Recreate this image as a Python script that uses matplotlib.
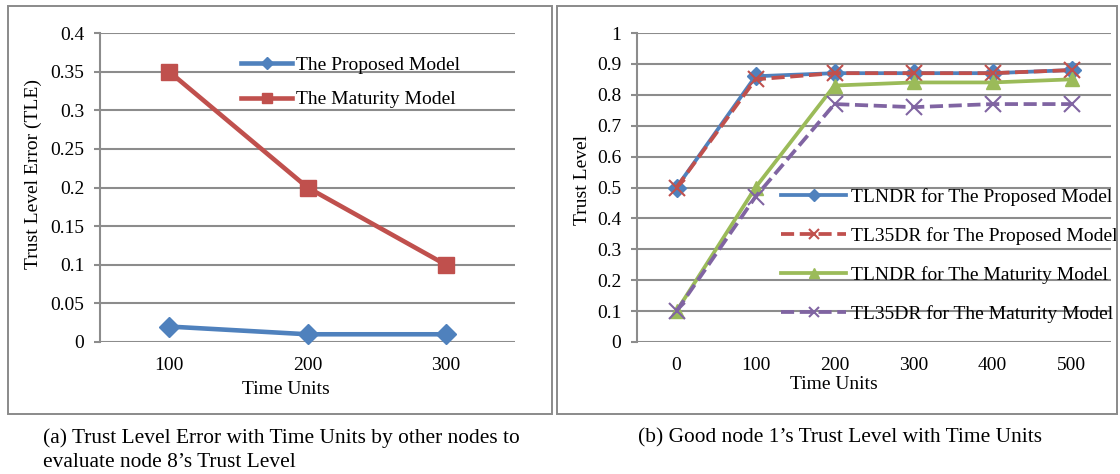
import matplotlib.pyplot as plt
from matplotlib.patches import Rectangle

plt.rcParams['font.family'] = ['Liberation Serif', 'DejaVu Serif']

# data for panel (a)
time_a = ['100', '200', '300']
tle_proposed = [0.02, 0.01, 0.01]
tle_maturity = [0.35, 0.20, 0.10]

# data for panel (b)
time_b = ['0', '100', '200', '300', '400', '500']
tlndr_proposed = [0.50, 0.86, 0.87, 0.87, 0.87, 0.88]
tl35dr_proposed = [0.50, 0.85, 0.87, 0.87, 0.87, 0.88]
tlndr_maturity = [0.10, 0.50, 0.83, 0.84, 0.84, 0.85]
tl35dr_maturity = [0.10, 0.47, 0.77, 0.76, 0.77, 0.77]

BLUE = '#4F81BD'
RED = '#C0504D'
GREEN = '#9BBB59'
PURPLE = '#8064A2'
GRID = '#8c8c8c'
FS = 14

W, H = 1120, 474
fig = plt.figure(figsize=(W / 100, H / 100), dpi=100)


def px_axes(x0, y0, x1, y1):
    """Axes from pixel box (top-left origin)."""
    return fig.add_axes([x0 / W, 1 - y1 / H, (x1 - x0) / W, (y1 - y0) / H])


def frame(x0, y0, x1, y1):
    fig.patches.append(Rectangle((x0 / W, 1 - y1 / H), (x1 - x0) / W, (y1 - y0) / H,
                                 transform=fig.transFigure, fill=False,
                                 edgecolor='#8a8a8a', linewidth=1.4))


def style_axes(ax, n, yticks):
    ax.set_xlim(-0.5, n - 0.5)
    ax.set_ylim(yticks[0], yticks[-1])
    ax.set_yticks(yticks)
    ax.yaxis.grid(True, color=GRID, linewidth=1.5)
    ax.set_axisbelow(True)
    for s in ['top', 'right', 'bottom']:
        ax.spines[s].set_visible(False)
    ax.spines['left'].set_color(GRID)
    ax.spines['left'].set_linewidth(1.5)
    ax.tick_params(axis='y', length=4.3, width=1.5, color=GRID, labelsize=FS, pad=7)
    ax.tick_params(axis='x', length=0, labelsize=FS, pad=11)


frame(8, 6, 552, 414)
frame(557, 6, 1117, 414)

# (a)
ax1 = px_axes(100, 33, 515, 342)
xa = range(len(time_a))
ax1.plot(xa, tle_proposed, color=BLUE, lw=3.3, marker='D', ms=10, label='The Proposed Model', clip_on=False)
ax1.plot(xa, tle_maturity, color=RED, lw=3.3, marker='s', ms=11, label='The Maturity Model', clip_on=False)
style_axes(ax1, len(time_a), [0, 0.05, 0.1, 0.15, 0.2, 0.25, 0.3, 0.35, 0.4])
ax1.set_yticklabels(['0', '0.05', '0.1', '0.15', '0.2', '0.25', '0.3', '0.35', '0.4'])
ax1.set_xticks(list(xa))
ax1.set_xticklabels(time_a)
ax1.set_xlabel('Time Units', fontsize=FS, va='center')
ax1.xaxis.set_label_coords(0.448, -0.153)
ax1.set_ylabel('Trust Level Error (TLE)', fontsize=FS, va='center')
ax1.yaxis.set_label_coords(-0.161, 0.544)
ax1.legend(loc='upper left', bbox_to_anchor=(0.34, 0.925), frameon=False, fontsize=FS,
           borderpad=0, borderaxespad=0, handlelength=2.62, handletextpad=0.2,
           labelspacing=0.87, markerscale=0.6)

# (b)
ax2 = px_axes(637, 33, 1111, 342)
xb = range(len(time_b))
ax2.plot(xb, tlndr_proposed, color=BLUE, lw=2.7, marker='D', ms=9, label='TLNDR for The Proposed Model', clip_on=False)
ax2.plot(xb, tl35dr_proposed, color=RED, lw=2.7, ls=(0, (3.5, 1.5)), marker='x', ms=11, mew=1.5,
         label='TL35DR for The Proposed Model', clip_on=False)
ax2.plot(xb, tlndr_maturity, color=GREEN, lw=2.7, marker='^', ms=10, label='TLNDR for The Maturity Model', clip_on=False)
ax2.plot(xb, tl35dr_maturity, color=PURPLE, lw=2.7, ls=(0, (3.5, 1.5)), marker='x', ms=11, mew=1.5,
         label='TL35DR for The Maturity Model', clip_on=False)
yt = [0, 0.1, 0.2, 0.3, 0.4, 0.5, 0.6, 0.7, 0.8, 0.9, 1.0]
style_axes(ax2, len(time_b), yt)
ax2.set_yticklabels(['0', '0.1', '0.2', '0.3', '0.4', '0.5', '0.6', '0.7', '0.8', '0.9', '1'])
ax2.set_xticks(list(xb))
ax2.set_xticklabels(time_b)
ax2.set_xlabel('Time Units', fontsize=FS, va='center')
ax2.xaxis.set_label_coords(0.416, -0.137)
ax2.set_ylabel('Trust Level', fontsize=FS, va='center')
ax2.yaxis.set_label_coords(-0.114, 0.524)
ax2.legend(loc='upper left', bbox_to_anchor=(0.304, 0.498), frameon=False, fontsize=FS,
           borderpad=0, borderaxespad=0, handlelength=3.34, handletextpad=0.26,
           labelspacing=1.08, markerscale=0.7)

# captions
fig.text(43 / W, 1 - 450.5 / H, "(a) Trust Level Error with Time Units by other nodes to\nevaluate node 8\u2019s Trust Level",
         fontsize=15.4, va='center', ha='left', linespacing=1.35)
fig.text(840 / W, 1 - 438 / H, "(b) Good node 1\u2019s Trust Level with Time Units",
         fontsize=15.4, va='center', ha='center')

fig.savefig('out.png', dpi=100)
